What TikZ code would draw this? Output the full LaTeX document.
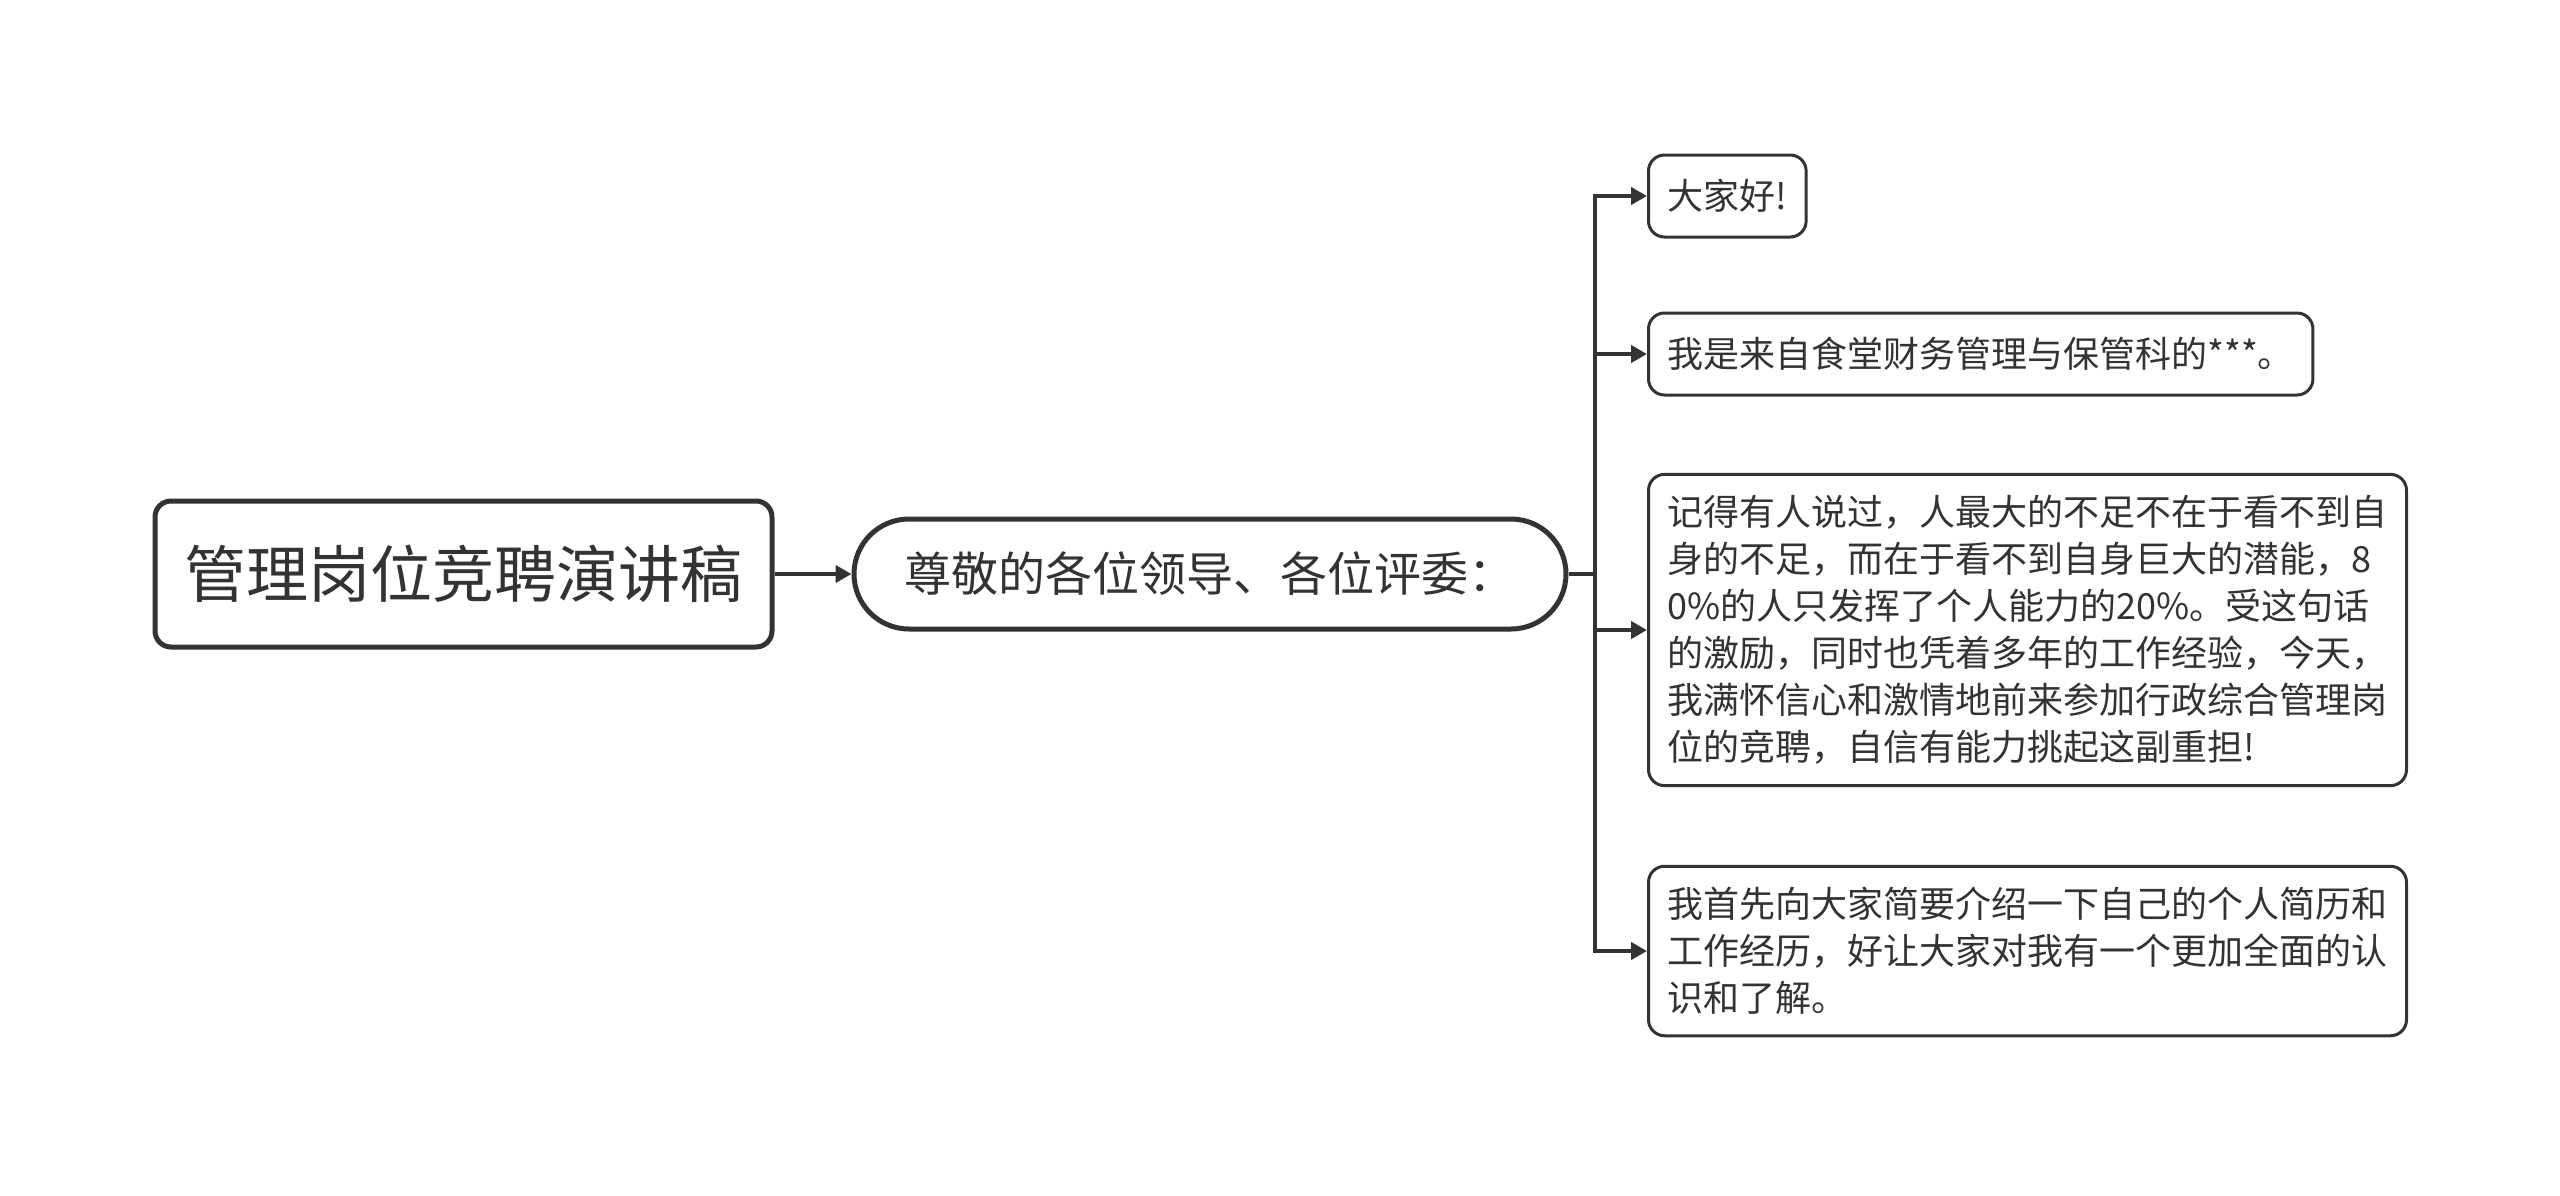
\documentclass[tikz,border=0pt]{standalone}
\usepackage{fontspec}
\setmainfont{Noto Sans CJK SC}
\usetikzlibrary{arrows.meta}
\definecolor{ink}{HTML}{333333}
\begin{document}
\begin{tikzpicture}[x=1pt,y=-1pt,
  rootbox/.style={draw=ink,line width=5pt,rounded corners=16pt,fill=white,text=ink,
    minimum width=617pt,minimum height=146pt,inner sep=0pt,font=\fontsize{62}{74}\selectfont},
  midbox/.style={draw=ink,line width=5pt,rounded corners=55pt,fill=white,text=ink,
    minimum width=712pt,minimum height=110pt,inner sep=0pt,font=\fontsize{47}{56}\selectfont},
  leafbox/.style={draw=ink,line width=3pt,rounded corners=16pt,fill=white,text=ink,
    anchor=west,align=left,inner xsep=19pt,inner ysep=21pt,minimum height=82pt,
    font=\fontsize{36}{47}\selectfont},
  conn/.style={draw=ink,line width=4pt},
  arr/.style={conn,-{Triangle[length=16pt,width=17pt]}}]
\useasboundingbox (0,0) rectangle (2560,1195);
\node[rootbox] (root) at (463.5,574) {管理岗位竞聘演讲稿};
\node[midbox] (mid) at (1210,574) {尊敬的各位领导、各位评委：};
\coordinate (j) at (1595,574);
\node[leafbox] (c1) at (1647,196) {大家好!};
\node[leafbox] (c2) at (1647,354) {我是来自食堂财务管理与保管科的***。};
\node[leafbox] (c3) at (1647,630) {记得有人说过，人最大的不足不在于看不到自\\身的不足，而在于看不到自身巨大的潜能，8\\0\%的人只发挥了个人能力的20\%。受这句话\\的激励，同时也凭着多年的工作经验，今天，\\我满怀信心和激情地前来参加行政综合管理岗\\位的竞聘，自信有能力挑起这副重担!};
\node[leafbox] (c4) at (1647,951) {我首先向大家简要介绍一下自己的个人简历和\\工作经历，好让大家对我有一个更加全面的认\\识和了解。};
\draw[arr] (root.east) -- (mid.west);
\draw[conn] (mid.east) -- (j);
\draw[arr] (j) |- (c1.west);
\draw[arr] (j) |- (c2.west);
\draw[arr] (j) |- (c3.west);
\draw[arr] (j) |- (c4.west);
\end{tikzpicture}
\end{document}
